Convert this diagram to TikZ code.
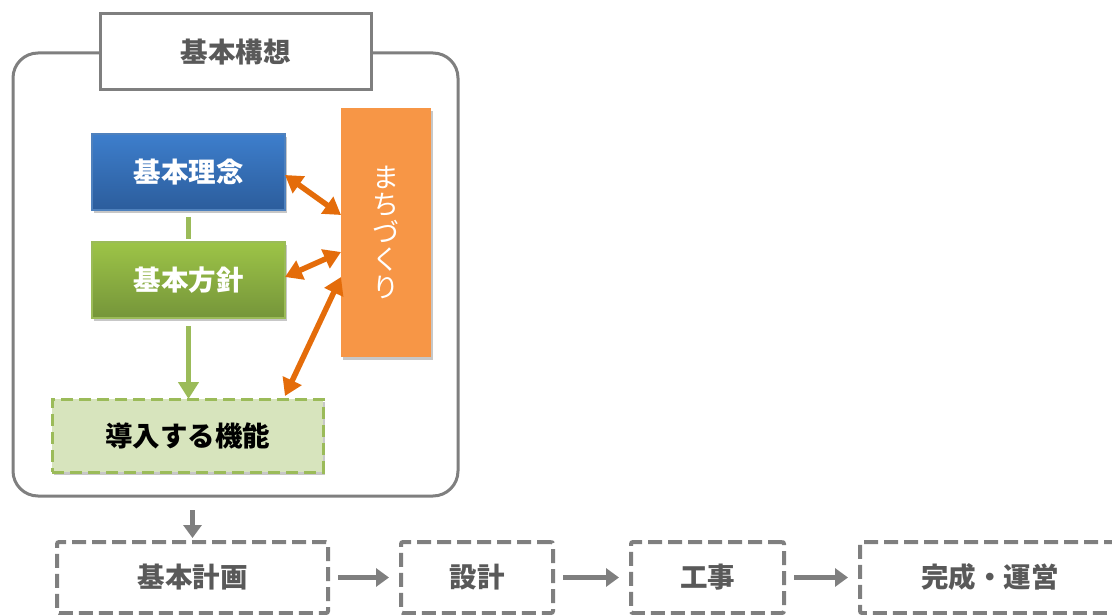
\documentclass[tikz,border=0pt]{standalone}
\usepackage{fontspec}
\newfontfamily\jp{Noto Sans CJK JP}
\usetikzlibrary{arrows.meta,shadows}
\definecolor{frame}{HTML}{7F7F7F}
\definecolor{txtgray}{HTML}{595959}
\definecolor{blueT}{HTML}{3D7ECC}
\definecolor{blueB}{HTML}{2C5D9C}
\definecolor{blueL}{HTML}{4F81BD}
\definecolor{greenT}{HTML}{9DC447}
\definecolor{greenB}{HTML}{75953A}
\definecolor{greenL}{HTML}{9BBB59}
\definecolor{greenF}{HTML}{D7E4BD}
\definecolor{orangeF}{HTML}{F79646}
\definecolor{orangeA}{HTML}{E46C0A}
\tikzset{
  every node/.style={font=\jp\bfseries\fontsize{27.5}{30}\selectfont, inner sep=0pt, outer sep=0pt},
  softshadow/.style={drop shadow={shadow xshift=1.5pt, shadow yshift=-3pt, opacity=0.22, fill=black}},
  bluebox/.style={rectangle, top color=blueT, bottom color=blueB, draw=blueL, line width=1.2pt, text=white, softshadow},
  greenbox/.style={rectangle, top color=greenT, bottom color=greenB, draw=greenL, line width=1.2pt, text=white, softshadow},
  funcbox/.style={rectangle, fill=greenF, draw=greenL, line width=3pt, dash pattern=on 12pt off 6pt, text=black, softshadow},
  orangebox/.style={rectangle, fill=orangeF, text=white, softshadow},
  outerframe/.style={rectangle, rounded corners=25pt, draw=frame, line width=3pt, fill=white},
  titlebox/.style={rectangle, draw=frame, line width=3pt, fill=white, text=txtgray},
  stagebox/.style={rectangle, rounded corners=2pt, draw=frame, line width=4pt, dash pattern=on 14pt off 6pt, text=txtgray},
  orangearrow/.style={draw=orangeA, line width=5.5pt, {Triangle[length=17pt,width=20pt]}-{Triangle[length=17pt,width=20pt]}},
  greenarrow/.style={draw=greenL, line width=5.5pt, -{Triangle[length=17pt,width=20pt]}},
  greenline/.style={draw=greenL, line width=5.5pt},
  grayarrow/.style={draw=frame, line width=5pt, -{Triangle[length=13pt,width=18pt]}},
}
\begin{document}
\begin{tikzpicture}[x=1pt,y=-1pt]
\useasboundingbox (0,0) rectangle (1112,615);
\clip (0,0) rectangle (1112,615);
% outer frame and title
\node[outerframe, minimum width=445pt, minimum height=443pt] (kousou) at (235.5,274.5) {};
\node[titlebox, minimum width=271pt, minimum height=76pt] (title) at (235.5,52) {基本構想};
% inner boxes
\node[bluebox, minimum width=193pt, minimum height=76pt] (rinen) at (188.5,172) {基本理念};
\node[greenbox, minimum width=193pt, minimum height=76pt] (hoshin) at (188.5,280) {基本方針};
\node[funcbox, minimum width=271pt, minimum height=73pt] (kinou) at (187.5,435.5) {導入する機能};
\node[orangebox, minimum width=90pt, minimum height=249pt] (machi) at (386,232.5) {};
\node[text=white, align=center, font=\jp\fontsize{27}{27.5}\selectfont] (machitxt) at (386,232) {ま\\ち\\づ\\く\\り};
% connectors inside
\draw[greenline] ([yshift=-7pt]rinen.south) -- ([yshift=3pt]hoshin.north);
\draw[greenarrow] ([yshift=-8pt]hoshin.south) -- (kinou.north -| hoshin.south);
\draw[orangearrow] ([yshift=-3pt]rinen.east) -- ([yshift=17.5pt]machi.west);
\draw[orangearrow] ([yshift=3pt]hoshin.east) -- ([yshift=-19.5pt]machi.west);
\draw[orangearrow] ([xshift=-38pt,yshift=3pt]kinou.north east) -- ([yshift=-44.5pt]machi.west);
% stages
\node[stagebox, minimum width=271pt, minimum height=71pt] (keikaku) at (192.5,577.5) {基本計画};
\node[stagebox, minimum width=152pt, minimum height=71pt] (sekkei) at (477,577.5) {設計};
\node[stagebox, minimum width=153pt, minimum height=71pt] (kouji) at (707.5,577.5) {工事};
\node[stagebox, minimum width=260pt, minimum height=71pt] (unei) at (990,577.5) {完成・運営};
\draw[grayarrow, shorten <=14pt, shorten >=4pt] (kousou.south -| keikaku.north) -- (keikaku.north);
\draw[grayarrow, shorten <=10pt, shorten >=12pt] (keikaku.east) -- (sekkei.west);
\draw[grayarrow, shorten <=10pt, shorten >=12pt] (sekkei.east) -- (kouji.west);
\draw[grayarrow, shorten <=10pt, shorten >=12pt] (kouji.east) -- (unei.west);
\end{tikzpicture}
\end{document}
